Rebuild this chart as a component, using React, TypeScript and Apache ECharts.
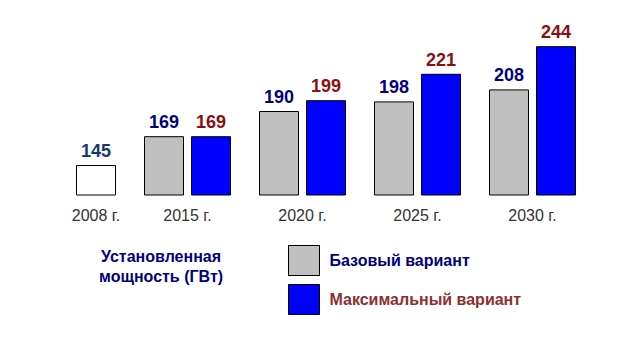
import React, { useEffect, useRef } from "react";
import * as echarts from "echarts";

const firstCategory = ["2008 г."];
const firstValues = [145];
const categories = ["2015 г.", "2020 г.", "2025 г.", "2030 г."];
const baseValues = [169, 190, 198, 208];
const maxValues = [169, 199, 221, 244];
const baseName = "Базовый вариант";
const maxName = "Максимальный вариант";
const titleText = "Установленная\nмощность (ГВт)";

const FONT = "'Liberation Sans', Arial, sans-serif";

export default function App() {
  const ref = useRef<HTMLDivElement>(null);
  useEffect(() => {
    if (!ref.current) return;
    const chart = echarts.init(ref.current, null, { renderer: "svg" });
    const labelBase = {
      show: true,
      position: "top",
      distance: 5,
      fontSize: 18,
      fontWeight: "bold",
      fontFamily: FONT,
    };
    const xCommon = {
      type: "category",
      axisLine: { show: false },
      axisTick: { show: false },
      axisLabel: { fontSize: 16, color: "#333333", fontFamily: FONT, margin: 12 },
    };
    const yCommon = { type: "value", min: 120, max: 250, show: false };
    chart.setOption({
      animation: false,
      backgroundColor: "#ffffff",
      grid: [
        { left: 62, width: 68, top: 39, height: 156 },
        { left: 130, width: 460, top: 39, height: 156 },
      ],
      xAxis: [
        { ...xCommon, gridIndex: 0, data: firstCategory },
        { ...xCommon, gridIndex: 1, data: categories },
      ],
      yAxis: [
        { ...yCommon, gridIndex: 0 },
        { ...yCommon, gridIndex: 1 },
      ],
      legend: {
        orient: "vertical",
        left: 283,
        top: 240,
        itemWidth: 31,
        itemHeight: 30,
        itemGap: 8,
        icon: "rect",
        itemStyle: { borderColor: "#000000", borderWidth: 1 },
        textStyle: { fontSize: 16, fontWeight: "bold", fontFamily: FONT, padding: [0, 0, 0, 5] },
        data: [
          { name: baseName, textStyle: { color: "#000080" } },
          { name: maxName, textStyle: { color: "#8b3030" } },
        ],
      },
      graphic: [
        {
          type: "text",
          left: 99,
          top: 246,
          style: {
            text: titleText,
            fill: "#000080",
            font: `bold 16px ${FONT}`,
            lineHeight: 20,
            textAlign: "center",
          },
        },
      ],
      series: [
        {
          type: "bar",
          name: "2008",
          xAxisIndex: 0,
          yAxisIndex: 0,
          data: firstValues,
          barWidth: 40,
          itemStyle: { color: "#ffffff", borderColor: "#000000", borderWidth: 1 },
          label: { ...labelBase, color: "#143c6e" },
        },
        {
          type: "bar",
          name: baseName,
          xAxisIndex: 1,
          yAxisIndex: 1,
          data: baseValues,
          barWidth: 40,
          barGap: "17.5%",
          itemStyle: { color: "#c0c0c0", borderColor: "#000000", borderWidth: 1 },
          label: { ...labelBase, color: "#000080" },
        },
        {
          type: "bar",
          name: maxName,
          xAxisIndex: 1,
          yAxisIndex: 1,
          data: maxValues,
          barWidth: 40,
          barGap: "17.5%",
          itemStyle: { color: "#0000ff", borderColor: "#000000", borderWidth: 1 },
          label: { ...labelBase, color: "#8b0f0f" },
        },
      ],
    });
    return () => chart.dispose();
  }, []);
  return (
    <div
      ref={ref}
      style={{ position: "fixed", left: 0, top: 0, width: 633, height: 359 }}
    />
  );
}
